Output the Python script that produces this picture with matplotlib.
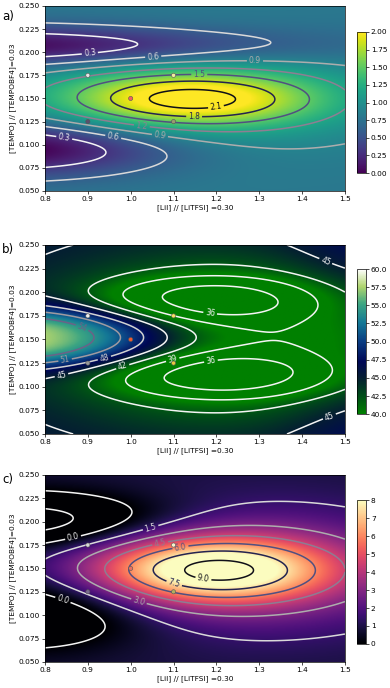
import numpy as np
import matplotlib
matplotlib.use("Agg")
import matplotlib.pyplot as plt
from matplotlib.colors import LinearSegmentedColormap, Normalize

plt.rcParams['font.family'] = ['DejaVu Sans']

# ---------------- axes / text ----------------
x_limits = [0.8, 1.5]
y_limits = [0.05, 0.25]
x_ticks = [0.8, 0.9, 1.0, 1.1, 1.2, 1.3, 1.4, 1.5]
y_ticks = [0.050, 0.075, 0.100, 0.125, 0.150, 0.175, 0.200, 0.225, 0.250]
x_label = "[LiI] // [LiTFSI] =0.30"
y_label = "[TEMPO] // [TEMPOBF4]=0.03"
panel_labels = ["a)", "b)", "c)"]

# experimental design points
design_x = [0.9, 1.1, 1.0, 0.9, 1.1]
design_y = [0.175, 0.175, 0.150, 0.125, 0.125]
a_point_colors = ["#e6e6e6", "#f3eea0", "#f06060", "#5a4f6e", "#9a9a70"]
b_point_colors = ["#f0f0f0", "#f5e060", "#f05a30", "#9a9a9a", "#e8c840"]
c_point_colors = ["#d8d8d8", "#f5f5d0", "#e87060", "#7a6a90", "#b0b060"]

# ---------------- response-surface models ----------------
# surface = base + sum of bumps  A*exp(-0.5*r2**p)
a_base = 0.78
a_amp = [1.05, 0.42, -0.80, -0.90]
a_x0 = [1.14, 1.15, 0.74, 0.72]
a_y0 = [0.149, 0.149, 0.206, 0.096]
a_sx = [0.21, 0.30, 0.45, 0.28]
a_sy = [0.021, 0.045, 0.016, 0.021]
a_p = [1.0, 1.0, 1.0, 1.0]
a_levels = [0.3, 0.6, 0.9, 1.2, 1.5, 1.8, 2.1]

b_base = 45.5
b_amp = [-6.8, -5.0, -5.0, 15.0, 2.2, 2.2]
b_x0 = [1.22, 1.19, 1.22, 0.78, 1.56, 1.56]
b_y0 = [0.150, 0.194, 0.111, 0.152, 0.255, 0.045]
b_sx = [0.36, 0.20, 0.21, 0.245, 0.14, 0.14]
b_sy = [0.070, 0.020, 0.020, 0.025, 0.045, 0.045]
b_p = [1.5, 1.5, 1.5, 1.3, 1.0, 1.0]
b_levels = [36, 39, 42, 45, 48, 51, 54]

c_base = 0.8
c_amp = [7.0, 2.0, -3.2, -2.6]
c_x0 = [1.19, 1.30, 0.77, 0.76]
c_y0 = [0.148, 0.148, 0.200, 0.102]
c_sx = [0.20, 0.30, 0.22, 0.20]
c_sy = [0.026, 0.050, 0.021, 0.026]
c_p = [1.0, 1.0, 1.0, 1.0]
c_levels = [-1.5, 0.0, 1.5, 3.0, 4.5, 6.0, 7.5, 9.0]

label_pos_a = [(0.905, 0.197), (1.053, 0.192), (1.29, 0.187), (1.16, 0.173),
               (1.199, 0.141), (1.148, 0.130), (1.026, 0.120), (1.068, 0.109),
               (0.959, 0.108), (0.845, 0.108)]
label_pos_b = [(1.185, 0.176), (1.187, 0.128), (1.099, 0.127), (0.983, 0.119),
               (0.839, 0.111), (0.94, 0.128), (0.847, 0.128), (0.886, 0.162),
               (1.469, 0.249), (1.477, 0.053)]
label_pos_c = [(0.866, 0.182), (1.045, 0.196), (1.068, 0.179), (1.115, 0.176),
               (1.169, 0.137), (1.099, 0.130), (1.018, 0.113), (0.843, 0.118)]


def surface(X, Y, base, amp, x0, y0, sx, sy, p):
    Z = np.full_like(X, base, dtype=float)
    for A, xc, yc, sxx, syy, pp in zip(amp, x0, y0, sx, sy, p):
        r2 = ((X - xc) / sxx) ** 2 + ((Y - yc) / syy) ** 2
        Z = Z + A * np.exp(-0.5 * r2 ** pp)
    return Z


xs = np.linspace(x_limits[0], x_limits[1], 351)
ys = np.linspace(y_limits[0], y_limits[1], 301)
X, Y = np.meshgrid(xs, ys)
Za = surface(X, Y, a_base, a_amp, a_x0, a_y0, a_sx, a_sy, a_p)
Zb = surface(X, Y, b_base, b_amp, b_x0, b_y0, b_sx, b_sy, b_p)
Zc = surface(X, Y, c_base, c_amp, c_x0, c_y0, c_sx, c_sy, c_p)

# ---------------- colormaps ----------------
b_cmap = LinearSegmentedColormap.from_list("greenocean", [
    (0.00, (0/255, 128/255, 0/255)),
    (0.13, (0/255, 75/255, 25/255)),
    (0.25, (5/255, 30/255, 50/255)),
    (0.36, (0/255, 8/255, 85/255)),
    (0.50, (10/255, 60/255, 130/255)),
    (0.63, (20/255, 120/255, 150/255)),
    (0.76, (60/255, 165/255, 130/255)),
    (0.88, (175/255, 212/255, 110/255)),
    (1.00, (1.0, 1.0, 1.0)),
])
line_cmap = LinearSegmentedColormap.from_list("lines", [
    (0.00, "#f4f4f4"), (0.18, "#d6d6d6"), (0.35, "#a8a8a8"),
    (0.52, "#8a7890"), (0.68, "#4c4c80"), (0.84, "#23234f"), (1.00, "#101018")])

panels = [
    dict(Z=Za, cmap="viridis", vmin=0, vmax=2.0, levels=a_levels, lnorm=(0.3, 2.1),
         cticks=np.arange(0, 2.01, 0.25), cfmt="%.2f", fmt="%.1f", lpos=label_pos_a,
         pcol=a_point_colors, rect=[0.1154, 0.7224, 0.769, 0.269],
         crect=[0.9154, 0.7485, 0.023, 0.205], lab_y=0.985),
    dict(Z=Zb, cmap=b_cmap, vmin=40, vmax=60, levels=b_levels, lnorm=(45, 60),
         cticks=np.arange(40, 60.01, 2.5), cfmt="%.1f", fmt="%d", lpos=label_pos_b,
         pcol=b_point_colors, rect=[0.1154, 0.3692, 0.769, 0.2747],
         crect=[0.9154, 0.398, 0.023, 0.211], lab_y=0.647),
    dict(Z=Zc, cmap="magma", vmin=0, vmax=8, levels=c_levels, lnorm=(0.0, 9.0),
         cticks=np.arange(0, 8.01, 1), cfmt="%d", fmt="%.1f", lpos=label_pos_c,
         pcol=c_point_colors, rect=[0.1154, 0.0378, 0.769, 0.272],
         crect=[0.9154, 0.064, 0.023, 0.209], lab_y=0.312),
]

fig = plt.figure(figsize=(3.90, 6.88), dpi=100)
fs = 5.3
for lab, P in zip(panel_labels, panels):
    ax = fig.add_axes(P["rect"])
    im = ax.imshow(P["Z"], extent=[x_limits[0], x_limits[1], y_limits[0], y_limits[1]],
                   origin="lower", aspect="auto", cmap=P["cmap"], vmin=P["vmin"],
                   vmax=P["vmax"], interpolation="bilinear")
    cs = ax.contour(X, Y, P["Z"], levels=P["levels"], cmap=line_cmap,
                    norm=Normalize(P["lnorm"][0], P["lnorm"][1]), linewidths=1.1)
    ax.clabel(cs, fmt=P["fmt"], fontsize=5.5, inline=True, inline_spacing=2,
              manual=P["lpos"])
    ax.scatter(design_x, design_y, s=9, c=P["pcol"], edgecolors="#555555",
               linewidths=0.4, zorder=5)
    ax.set_xlim(x_limits)
    ax.set_ylim(y_limits)
    ax.set_xticks(x_ticks)
    ax.set_xticklabels([f"{t:.1f}" for t in x_ticks])
    ax.set_yticks(y_ticks)
    ax.set_yticklabels([f"{t:.3f}" for t in y_ticks])
    ax.tick_params(labelsize=fs, length=2, width=0.5, pad=1.5)
    ax.set_xlabel(x_label, fontsize=fs, labelpad=1.5)
    ax.set_ylabel(y_label, fontsize=fs, labelpad=2)
    for s in ax.spines.values():
        s.set_linewidth(0.5)
    cax = fig.add_axes(P["crect"])
    cb = fig.colorbar(im, cax=cax, ticks=P["cticks"], format=P["cfmt"])
    cb.ax.tick_params(labelsize=fs, length=2, width=0.5, pad=1.5)
    cb.outline.set_linewidth(0.5)
    fig.text(0.005, P["lab_y"], lab, fontsize=8.5, ha="left", va="top")

fig.savefig("out.png", dpi=100)
